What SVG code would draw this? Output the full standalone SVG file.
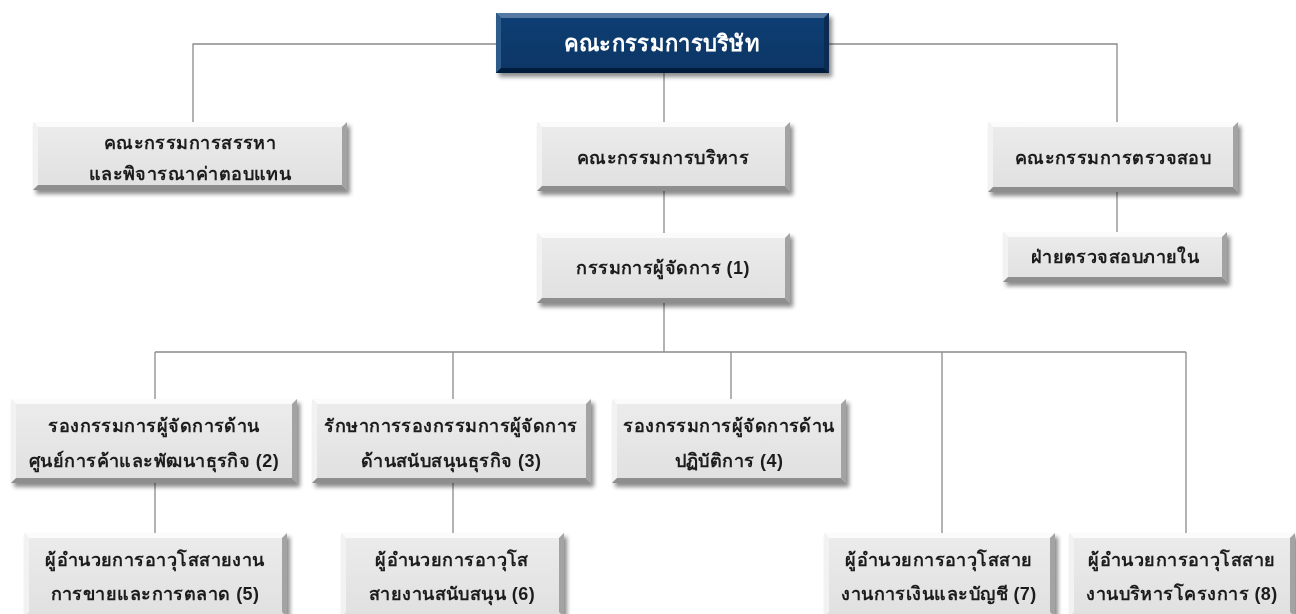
<svg xmlns="http://www.w3.org/2000/svg" width="1296" height="614" viewBox="0 0 1296 614">
<defs>
<filter id="sh" x="-5%" y="-10%" width="115%" height="130%">
<feDropShadow dx="3" dy="4" stdDeviation="2" flood-color="#000" flood-opacity="0.45"/>
</filter>
<linearGradient id="gface" x1="0" y1="0" x2="0" y2="1">
<stop offset="0" stop-color="#ececec"/>
<stop offset="1" stop-color="#e0e0e0"/>
</linearGradient>
<linearGradient id="nface" x1="0" y1="0" x2="0" y2="1">
<stop offset="0" stop-color="#0e3f74"/>
<stop offset="1" stop-color="#0a3565"/>
</linearGradient>
</defs>
<style>
.face{fill:url(#gface)}
.bt{fill:#fbfbfb}
.bl{fill:#f2f2f2}
.br{fill:#a3a3a3}
.bb{fill:#8e8e8e}
.nface{fill:url(#nface)}
.nbt{fill:#5479a3}
.nbl{fill:#2f5b8a}
.nbr{fill:#082a52}
.nbb{fill:#061f3e}
.node{filter:url(#sh)}
text{font-family:"Liberation Sans","Noto Sans",sans-serif;font-size:18px;letter-spacing:0.45px;font-weight:bold;fill:#1e1e1e;text-anchor:middle}
.ttl{font-size:22px;letter-spacing:0.3px;fill:#ffffff}
.conn{fill:none;stroke:#8a8a8a;stroke-width:1.3}
</style>

<g id="connectors" class="conn">
<path d="M496 44 H193 V122"/>
<path d="M829 44 H1117 V122"/>
<path d="M664 73 V122"/>
<path d="M664 191 V233"/>
<path d="M1117 192 V232"/>
<path d="M664 303 V352"/>
<path d="M155 352 H1186"/>
<path d="M155 352 V399"/>
<path d="M453 352 V399"/>
<path d="M731 352 V399"/>
<path d="M942 352 V533"/>
<path d="M1186 352 V533"/>
<path d="M155 483 V533"/>
<path d="M453 483 V533"/>
</g>

<g id="board" class="node">
<rect class="nface" x="496" y="13" width="333" height="60"/>
<polygon class="nbt" points="496,13 829,13 824,18 501,18"/>
<polygon class="nbl" points="496,13 501,18 501,68 496,73"/>
<polygon class="nbr" points="829,13 829,73 824,68 824,18"/>
<polygon class="nbb" points="496,73 829,73 824,68 501,68"/>
<text class="ttl" x="662" y="51">คณะกรรมการบริษัท</text>
</g>

<g id="nomination" class="node">
<rect class="face" x="33" y="122" width="314" height="68"/>
<polygon class="bt" points="33,122 347,122 342,127 38,127"/>
<polygon class="bl" points="33,122 38,127 38,185 33,190"/>
<polygon class="br" points="347,122 347,190 342,185 342,127"/>
<polygon class="bb" points="33,190 347,190 342,185 38,185"/>
<text x="190" y="149">คณะกรรมการสรรหา</text>
<text x="190" y="180">และพิจารณาค่าตอบแทน</text>
</g>

<g id="executive" class="node">
<rect class="face" x="537" y="122" width="253" height="69"/>
<polygon class="bt" points="537,122 790,122 785,127 542,127"/>
<polygon class="bl" points="537,122 542,127 542,186 537,191"/>
<polygon class="br" points="790,122 790,191 785,186 785,127"/>
<polygon class="bb" points="537,191 790,191 785,186 542,186"/>
<text x="663" y="164">คณะกรรมการบริหาร</text>
</g>

<g id="audit" class="node">
<rect class="face" x="988" y="122" width="250" height="70"/>
<polygon class="bt" points="988,122 1238,122 1233,127 993,127"/>
<polygon class="bl" points="988,122 993,127 993,187 988,192"/>
<polygon class="br" points="1238,122 1238,192 1233,187 1233,127"/>
<polygon class="bb" points="988,192 1238,192 1233,187 993,187"/>
<text x="1113" y="164">คณะกรรมการตรวจสอบ</text>
</g>

<g id="md" class="node">
<rect class="face" x="537" y="233" width="253" height="70"/>
<polygon class="bt" points="537,233 790,233 785,238 542,238"/>
<polygon class="bl" points="537,233 542,238 542,298 537,303"/>
<polygon class="br" points="790,233 790,303 785,298 785,238"/>
<polygon class="bb" points="537,303 790,303 785,298 542,298"/>
<text x="663" y="274">กรรมการผู้จัดการ (1)</text>
</g>

<g id="internal-audit" class="node">
<rect class="face" x="1003" y="232" width="224" height="50"/>
<polygon class="bt" points="1003,232 1227,232 1222,237 1008,237"/>
<polygon class="bl" points="1003,232 1008,237 1008,277 1003,282"/>
<polygon class="br" points="1227,232 1227,282 1222,277 1222,237"/>
<polygon class="bb" points="1003,282 1227,282 1222,277 1008,277"/>
<text x="1115" y="263">ฝ่ายตรวจสอบภายใน</text>
</g>

<g id="n2" class="node">
<rect class="face" x="11" y="399" width="286" height="84"/>
<polygon class="bt" points="11,399 297,399 292,404 16,404"/>
<polygon class="bl" points="11,399 16,404 16,478 11,483"/>
<polygon class="br" points="297,399 297,483 292,478 292,404"/>
<polygon class="bb" points="11,483 297,483 292,478 16,478"/>
<text x="154" y="432">รองกรรมการผู้จัดการด้าน</text>
<text x="154" y="467">ศูนย์การค้าและพัฒนาธุรกิจ (2)</text>
</g>

<g id="n3" class="node">
<rect class="face" x="312" y="399" width="279" height="84"/>
<polygon class="bt" points="312,399 591,399 586,404 317,404"/>
<polygon class="bl" points="312,399 317,404 317,478 312,483"/>
<polygon class="br" points="591,399 591,483 586,478 586,404"/>
<polygon class="bb" points="312,483 591,483 586,478 317,478"/>
<text x="451" y="432">รักษาการรองกรรมการผู้จัดการ</text>
<text x="451" y="467">ด้านสนับสนุนธุรกิจ (3)</text>
</g>

<g id="n4" class="node">
<rect class="face" x="612" y="399" width="234" height="84"/>
<polygon class="bt" points="612,399 846,399 841,404 617,404"/>
<polygon class="bl" points="612,399 617,404 617,478 612,483"/>
<polygon class="br" points="846,399 846,483 841,478 841,404"/>
<polygon class="bb" points="612,483 846,483 841,478 617,478"/>
<text x="729" y="432">รองกรรมการผู้จัดการด้าน</text>
<text x="729" y="467">ปฏิบัติการ (4)</text>
</g>

<g id="n5" class="node">
<rect class="face" x="24" y="533" width="263" height="84"/>
<polygon class="bt" points="24,533 287,533 282,538 29,538"/>
<polygon class="bl" points="24,533 29,538 29,612 24,617"/>
<polygon class="br" points="287,533 287,617 282,612 282,538"/>
<text x="155" y="566">ผู้อำนวยการอาวุโสสายงาน</text>
<text x="155" y="600">การขายและการตลาด (5)</text>
</g>

<g id="n6" class="node">
<rect class="face" x="341" y="533" width="223" height="84"/>
<polygon class="bt" points="341,533 564,533 559,538 346,538"/>
<polygon class="bl" points="341,533 346,538 346,612 341,617"/>
<polygon class="br" points="564,533 564,617 559,612 559,538"/>
<text x="452" y="566">ผู้อำนวยการอาวุโส</text>
<text x="452" y="600">สายงานสนับสนุน (6)</text>
</g>

<g id="n7" class="node">
<rect class="face" x="824" y="533" width="231" height="84"/>
<polygon class="bt" points="824,533 1055,533 1050,538 829,538"/>
<polygon class="bl" points="824,533 829,538 829,612 824,617"/>
<polygon class="br" points="1055,533 1055,617 1050,612 1050,538"/>
<text x="939" y="566">ผู้อำนวยการอาวุโสสาย</text>
<text x="939" y="600">งานการเงินและบัญชี (7)</text>
</g>

<g id="n8" class="node">
<rect class="face" x="1069" y="533" width="226" height="84"/>
<polygon class="bt" points="1069,533 1295,533 1290,538 1074,538"/>
<polygon class="bl" points="1069,533 1074,538 1074,612 1069,617"/>
<polygon class="br" points="1295,533 1295,617 1290,612 1290,538"/>
<text x="1182" y="566">ผู้อำนวยการอาวุโสสาย</text>
<text x="1182" y="600">งานบริหารโครงการ (8)</text>
</g>
</svg>
